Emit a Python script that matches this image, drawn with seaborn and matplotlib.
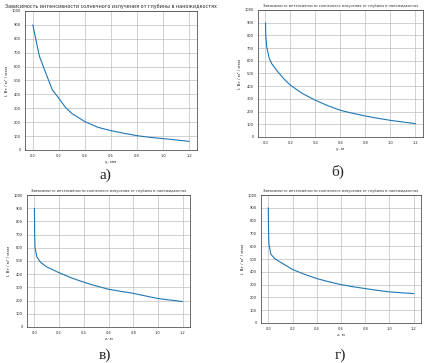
import numpy as np
import pandas as pd
import matplotlib
matplotlib.use("Agg")
import matplotlib.pyplot as plt
import seaborn as sns

# глубина, мм
depth_a = [0.0, 0.05, 0.1, 0.15, 0.2, 0.25, 0.3, 0.35, 0.4, 0.5, 0.6, 0.7, 0.8, 0.9, 1.0, 1.1, 1.2]
intensity_a = [900, 676, 552, 432, 372, 307, 262, 233, 204, 163, 139, 120, 103, 91, 82, 72, 62]

depth_b = [0.0, 0.002, 0.01, 0.03, 0.05, 0.1, 0.15, 0.2, 0.3, 0.4, 0.5, 0.6, 0.7, 0.8, 0.9, 1.0, 1.1, 1.2]
intensity_b = [900, 800, 709, 620, 577, 512, 455, 407, 340, 289, 246, 210, 186, 165, 147, 131, 118, 105]

depth_c = [0.0, 0.002, 0.005, 0.02, 0.05, 0.1, 0.2, 0.3, 0.4, 0.5, 0.6, 0.7, 0.8, 0.9, 1.0, 1.1, 1.2]
intensity_c = [900, 700, 600, 530, 490, 455, 411, 372, 339, 311, 286, 270, 255, 235, 216, 204, 193]

depth_d = [0.0, 0.002, 0.005, 0.02, 0.05, 0.1, 0.2, 0.3, 0.4, 0.5, 0.6, 0.7, 0.8, 0.9, 1.0, 1.1, 1.2]
intensity_d = [900, 720, 620, 540, 505, 475, 418, 380, 347, 322, 300, 283, 269, 255, 243, 236, 230]

title = "Зависимость интенсивности солнечного излучения от глубины в наножидкостях"
ylabel = "I, Вт / м² / мкм"
xlabels = ["y, мм", "y, м", "z, м", "z, м"]
captions = ["а)", "б)", "в)", "г)"]

sns.set_style("whitegrid", {"axes.edgecolor": "0.2", "grid.color": "0.75"})

fig = plt.figure(figsize=(4.26, 3.63), dpi=100)
positions = [
    [0.0587, 0.5868, 0.4038, 0.3829],
    [0.6056, 0.6226, 0.3873, 0.3499],
    [0.0634, 0.0992, 0.3826, 0.3636],
    [0.6127, 0.1102, 0.3756, 0.3526],
]
data = [(depth_a, intensity_a), (depth_b, intensity_b), (depth_c, intensity_c), (depth_d, intensity_d)]
caption_pos = [(105, 175), (338, 172), (105, 355), (340, 355)]

for i, (pos, (x, y)) in enumerate(zip(positions, data)):
    ax = fig.add_axes(pos)
    df = pd.DataFrame({"x": x, "y": y})
    sns.lineplot(data=df, x="x", y="y", ax=ax, color="#1f77b4", linewidth=0.8)
    ax.set_ylim(0, 1000)
    ax.set_yticks(np.arange(0, 1001, 100))
    ax.set_xticks(np.arange(0, 1.21, 0.2))
    ax.set_xticklabels([f"{v:.1f}" for v in np.arange(0, 1.21, 0.2)])
    ax.tick_params(labelsize=2.6, length=1.5, width=0.4, pad=1.5)
    ax.set_xlabel(xlabels[i], fontsize=3, labelpad=1.5)
    ax.set_ylabel(ylabel, fontsize=3, labelpad=2)
    ax.set_title(title, fontsize=3.5 if i == 0 else 2.5, pad=2)
    ax.grid(True, linewidth=0.5)
    for s in ax.spines.values():
        s.set_linewidth(0.5)
    fig.text(caption_pos[i][0] / 426, 1 - caption_pos[i][1] / 363, captions[i],
             ha="center", va="center", fontsize=11, family="Liberation Serif")

fig.savefig("out.png", dpi=100)
